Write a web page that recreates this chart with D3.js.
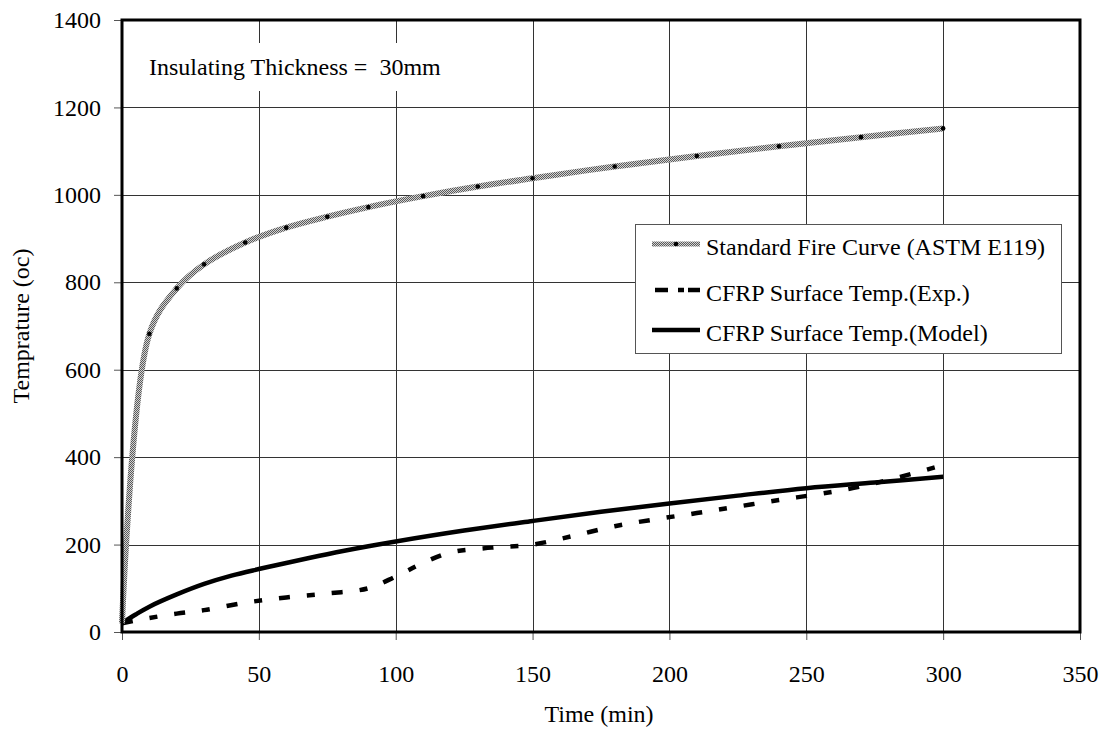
<!DOCTYPE html>
<html>
<head>
<meta charset="utf-8">
<script src="https://cdn.jsdelivr.net/npm/d3@7"></script>
<style>
  html, body { margin: 0; padding: 0; background: #fff; }
  svg { display: block; }
  svg text { font-family: "Liberation Serif", "Times New Roman", serif; white-space: pre; }
</style>
</head>
<body>
<svg id="chart" width="1106" height="733"></svg>
<script>
// Time (min) and temperature (°C) readings for each curve
const fireTime  = [0, 10, 20, 30, 45, 60, 75, 90, 110, 130, 150, 180, 210, 240, 270, 300];
const fireTemp  = [20, 682, 786, 841, 891, 925, 950, 972, 997, 1019, 1038, 1065, 1089, 1111, 1132, 1152];

const expTime   = [0, 10, 20, 30, 45, 60, 75, 90, 100, 110, 120, 135, 150, 165, 180, 195, 210, 225, 240, 255, 270, 285, 300];
const expTemp   = [20, 32, 42, 50, 67, 79, 88, 100, 127, 158, 182, 193, 200, 220, 242, 258, 272, 287, 302, 316, 333, 356, 382];

const modelTime = [0, 5, 10, 20, 30, 40, 50, 60, 75, 90, 100, 125, 150, 175, 200, 225, 250, 275, 300];
const modelTemp = [20, 40, 58, 86, 110, 129, 144, 158, 178, 196, 207, 232, 254, 275, 294, 312, 329, 342, 355];

const xTicks = [0, 50, 100, 150, 200, 250, 300, 350];
const yTicks = [0, 200, 400, 600, 800, 1000, 1200, 1400];

const legendLabels = [
  "Standard Fire Curve (ASTM E119)",
  "CFRP Surface Temp.(Exp.)",
  "CFRP Surface Temp.(Model)"
];
const noteText = "Insulating Thickness =  30mm";
const xTitle = "Time (min)";
const yTitle = "Temprature (oc)";

const FONT = 24;
const svg = d3.select("#chart");
const margin = { left: 122, top: 20, right: 26, bottom: 101 };
const W = 1106 - margin.left - margin.right;
const H = 733 - margin.top - margin.bottom;

const x = d3.scaleLinear().domain([0, 350]).range([0, W]);
const y = d3.scaleLinear().domain([0, 1400]).range([H, 0]);

// dithered grey stroke for the fire curve
const defs = svg.append("defs");
const pat = defs.append("pattern")
  .attr("id", "dither").attr("patternUnits", "userSpaceOnUse")
  .attr("width", 2).attr("height", 2);
pat.append("rect").attr("width", 2).attr("height", 2).attr("fill", "#d2d2d2");
pat.append("rect").attr("width", 1).attr("height", 1).attr("fill", "#5a5a5a");
pat.append("rect").attr("x", 1).attr("y", 1).attr("width", 1).attr("height", 1).attr("fill", "#5a5a5a");

const g = svg.append("g").attr("transform", `translate(${margin.left},${margin.top})`);

// grid
g.append("g").selectAll("line").data(yTicks.slice(1, -1)).join("line")
  .attr("x1", 0).attr("x2", W)
  .attr("y1", d => Math.round(y(d)) + 0.5).attr("y2", d => Math.round(y(d)) + 0.5)
  .attr("stroke", "#333").attr("stroke-width", 1);
g.append("g").selectAll("line").data(xTicks.slice(1, -1)).join("line")
  .attr("y1", 0).attr("y2", H)
  .attr("x1", d => Math.round(x(d)) + 0.5).attr("x2", d => Math.round(x(d)) + 0.5)
  .attr("stroke", "#333").attr("stroke-width", 1);

// note label with white backing
const note = g.append("g");
note.append("rect").attr("x", 18).attr("y", 23).attr("width", 310).attr("height", 48).attr("fill", "#fff");
note.append("text").attr("x", 27).attr("y", 47).attr("dominant-baseline", "central")
  .attr("font-size", FONT).attr("fill", "#000").text(noteText);

// axes
const xAxis = d3.axisBottom(x).tickValues(xTicks).tickSize(8).tickPadding(25).tickFormat(d3.format("d"));
const yAxis = d3.axisLeft(y).tickValues(yTicks).tickSize(8).tickPadding(13).tickFormat(d3.format("d"));

const gx = g.append("g").attr("transform", `translate(0,${H})`).call(xAxis);
const gy = g.append("g").call(yAxis);
[gx, gy].forEach(a => {
  a.attr("font-family", null).attr("font-size", null);
  a.select(".domain").remove();
  a.selectAll(".tick line").attr("stroke", "#555").attr("stroke-width", 1);
  a.selectAll(".tick text").attr("font-size", FONT).attr("fill", "#000");
});

// curves
const lineGen = d3.line().x(d => x(d[0])).y(d => y(d[1])).curve(d3.curveCatmullRom.alpha(0.5));
const fireData  = fireTime.map((t, i) => [t, fireTemp[i]]);
const expData   = expTime.map((t, i) => [t, expTemp[i]]);
const modelData = modelTime.map((t, i) => [t, modelTemp[i]]);

g.append("path").datum(modelData).attr("d", lineGen)
  .attr("fill", "none").attr("stroke", "#000").attr("stroke-width", 4.5);

g.append("path").datum(expData).attr("d", lineGen)
  .attr("fill", "none").attr("stroke", "#000").attr("stroke-width", 4.5)
  .attr("stroke-dasharray", "11,17,8,17");

g.append("path").datum(fireData).attr("d", lineGen)
  .attr("fill", "none").attr("stroke", "url(#dither)").attr("stroke-width", 6);

g.append("g").selectAll("circle").data(fireData.slice(1)).join("circle")
  .attr("cx", d => x(d[0])).attr("cy", d => y(d[1])).attr("r", 2.3).attr("fill", "#000");

// frame
g.append("rect").attr("x", 0).attr("y", 0).attr("width", W).attr("height", H)
  .attr("fill", "none").attr("stroke", "#000").attr("stroke-width", 3);

// legend
const lg = svg.append("g").attr("transform", "translate(635,224)");
lg.append("rect").attr("x", 0.5).attr("y", 0.5).attr("width", 426).attr("height", 129)
  .attr("fill", "#fff").attr("stroke", "#555").attr("stroke-width", 1);
const rows = [20, 66, 106];
const sx1 = 17, sx2 = 65;
lg.append("line").attr("x1", sx1).attr("x2", sx2).attr("y1", rows[0]).attr("y2", rows[0])
  .attr("stroke", "url(#dither)").attr("stroke-width", 5);
lg.append("circle").attr("cx", (sx1 + sx2) / 2).attr("cy", rows[0]).attr("r", 2.3).attr("fill", "#000");
lg.append("line").attr("x1", sx1 + 3).attr("x2", sx2).attr("y1", rows[1]).attr("y2", rows[1])
  .attr("stroke", "#000").attr("stroke-width", 4.5).attr("stroke-dasharray", "13,10,6,4");
lg.append("line").attr("x1", sx1).attr("x2", sx2).attr("y1", rows[2]).attr("y2", rows[2])
  .attr("stroke", "#000").attr("stroke-width", 4.5);
lg.selectAll("text.lbl").data(legendLabels).join("text").attr("class", "lbl")
  .attr("x", 71).attr("y", (d, i) => rows[i] + 3).attr("dominant-baseline", "central")
  .attr("font-size", FONT).attr("fill", "#000").text(d => d);

// axis titles
svg.append("text").attr("x", margin.left + x(175) - 2).attr("y", 714)
  .attr("text-anchor", "middle").attr("dominant-baseline", "central")
  .attr("font-size", FONT).attr("fill", "#000").text(xTitle);
svg.append("text").attr("transform", `translate(21,${margin.top + H / 2}) rotate(-90)`)
  .attr("text-anchor", "middle").attr("dominant-baseline", "central")
  .attr("font-size", FONT).attr("fill", "#000").text(yTitle);
</script>
</body>
</html>
